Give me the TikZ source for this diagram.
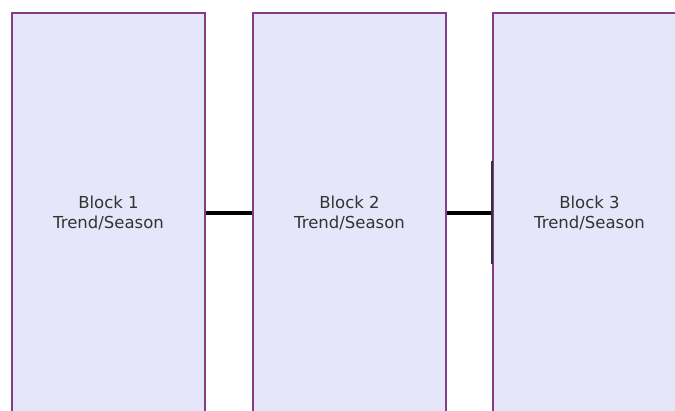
\documentclass[tikz,border=0pt]{standalone}
\usepackage{fontspec}
\setmainfont{DejaVu Sans}
\definecolor{blockfill}{HTML}{E6E6FA}
\definecolor{blockdraw}{HTML}{853A8A}
\definecolor{txt}{HTML}{333333}
\begin{document}
\begin{tikzpicture}[x=1pt,y=-1pt,
  block/.style={draw=blockdraw, line width=2pt, fill=blockfill, minimum width=193pt, minimum height=400pt, inner sep=0pt, align=center, text=txt, font=\fontsize{16.5}{19.5}\selectfont},
  link/.style={draw=black, line width=3.2pt}]
\useasboundingbox (0,0) rectangle (675,410);
\clip (0,0) rectangle (675,410);
\fill[white] (0,0) rectangle (675,410);
\node[block] (b1) at (108.5,213) {Block 1\\Trend/Season};
\node[block] (b2) at (349.5,213) {Block 2\\Trend/Season};
\node[block] (b3) at (589.5,213) {Block 3\\Trend/Season};
\draw[link] (b1.east) -- (b2.west);
\draw[link] (b2.east) -- (b3.west);
\coordinate (m1) at ([yshift=-51pt]b3.west);
\coordinate (m2) at ([yshift=52pt]b3.west);
\draw[black!80, line width=1.2pt] (m1) -- (m2);
\end{tikzpicture}
\end{document}
